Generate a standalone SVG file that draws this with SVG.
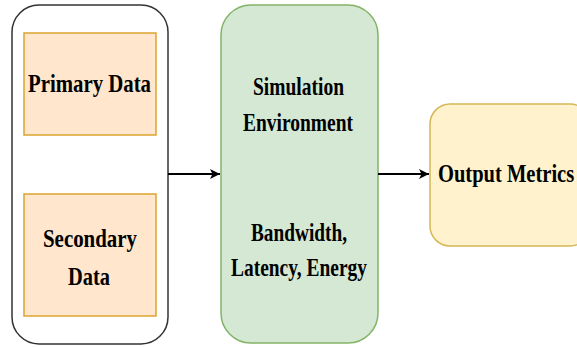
<svg xmlns="http://www.w3.org/2000/svg" width="577" height="347" viewBox="0 0 577 347">
<defs>
<marker id="ah" viewBox="0 0 10 10" refX="10" refY="5" markerWidth="10" markerHeight="10" markerUnits="userSpaceOnUse" orient="auto">
<path d="M0,0 L10,5 L0,10 L2.5,5 z" fill="#000"/>
</marker>
<style>
text{font-family:"Liberation Serif","Times New Roman",serif;font-weight:bold;font-size:26px;fill:#000}
.orange{fill:#ffe6cc;stroke:#dba530;stroke-width:1.5}
.cont{fill:#fff;stroke:#333;stroke-width:1.5}
.green{fill:#d5e8d4;stroke:#82b366;stroke-width:1.5}
.yellow{fill:#fff2cc;stroke:#d6b656;stroke-width:1.5}
.conn{stroke:#000;stroke-width:1.8;fill:none}
</style>
</defs>
<rect width="577" height="347" fill="#fff"/>
<g id="data-sources">
<rect class="cont" x="12" y="5" width="156" height="339" rx="27" ry="27"/>
</g>
<g id="primary-data">
<rect class="orange" x="24" y="33" width="132" height="102"/>
<text x="28" y="92" textLength="123" lengthAdjust="spacingAndGlyphs">Primary Data</text>
</g>
<g id="secondary-data">
<rect class="orange" x="24" y="194" width="132" height="122"/>
<text x="43" y="247" textLength="94" lengthAdjust="spacingAndGlyphs">Secondary</text>
<text x="68" y="285" textLength="42" lengthAdjust="spacingAndGlyphs">Data</text>
</g>
<g id="simulation">
<rect class="green" x="221" y="5" width="157" height="338" rx="30" ry="30"/>
<text x="253" y="95" textLength="91" lengthAdjust="spacingAndGlyphs">Simulation</text>
<text x="243" y="131" textLength="110" lengthAdjust="spacingAndGlyphs">Environment</text>
<text x="251" y="241" textLength="96" lengthAdjust="spacingAndGlyphs">Bandwidth,</text>
<text x="231" y="276" textLength="136" lengthAdjust="spacingAndGlyphs">Latency, Energy</text>
</g>
<g id="output-metrics">
<rect class="yellow" x="430" y="104" width="160" height="142" rx="20" ry="20"/>
<text transform="translate(438,182) scale(0.79,1)" x="0" y="0">Output Metrics</text>
</g>
<g id="connectors">
<line class="conn" x1="168" y1="174" x2="220" y2="174" marker-end="url(#ah)"/>
<line class="conn" x1="378" y1="174" x2="429" y2="174" marker-end="url(#ah)"/>
</g>
</svg>
